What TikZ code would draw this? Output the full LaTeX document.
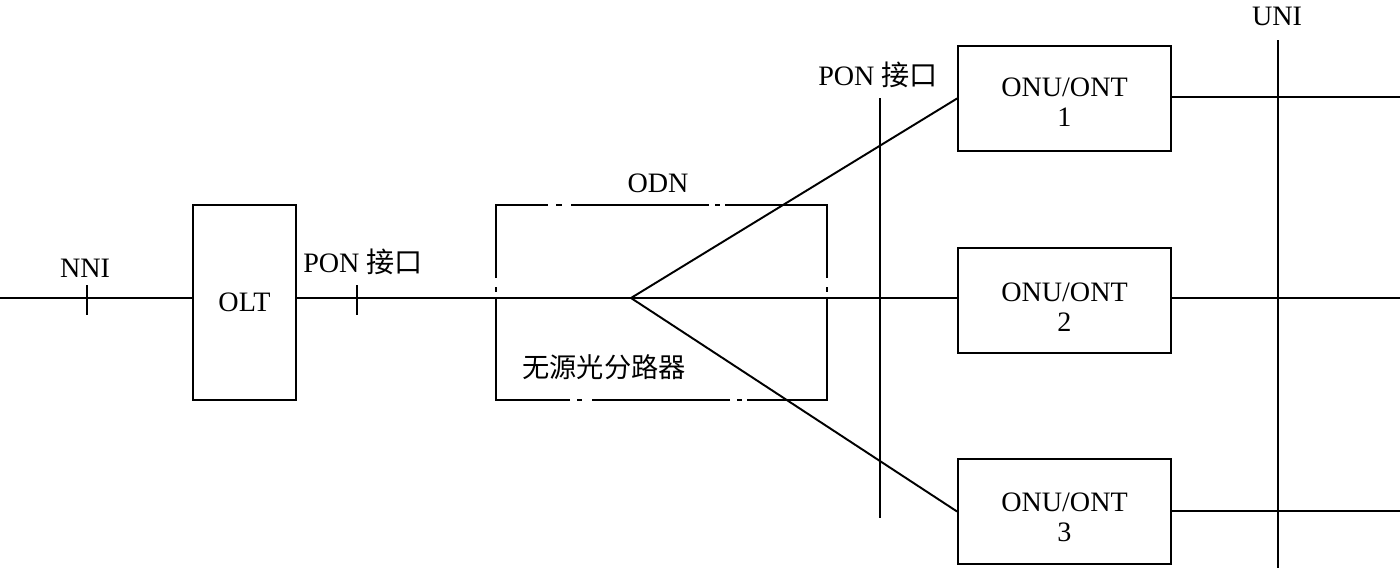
\documentclass[tikz,border=0pt]{standalone}
\usepackage{fontspec}
\setmainfont{Liberation Serif}
\newfontfamily\cjk{Noto Sans CJK SC}
\begin{document}
\begin{tikzpicture}[x=0.02cm,y=-0.02cm,line width=1.1pt,
  lbl/.style={font=\fontsize{16}{17}\selectfont,inner sep=0pt},
  olt/.style={draw,minimum width=2.06cm,minimum height=3.9cm,inner sep=0pt,font=\fontsize{16}{17}\selectfont},
  onu/.style={draw,minimum width=4.26cm,minimum height=2.1cm,inner sep=0pt},
  onutxt/.style={align=center,inner sep=0pt,font=\fontsize{16}{17}\selectfont}]
\useasboundingbox (0,0) rectangle (1400,568);
% nodes
\node[olt] (olt) at (244.5,302.5) {OLT};
\node[onu] (onu1) at (1064.5,98.5) {};
\node[onu] (onu2) at (1064.5,300.5) {};
\node[onu] (onu3) at (1064.5,511.5) {};
\node[onutxt] (t1) at ([yshift=-0.08cm]onu1.center) {ONU/ONT\\1};
\node[onutxt] (t2) at ([yshift=-0.13cm]onu2.center) {ONU/ONT\\2};
\node[onutxt] (t3) at ([yshift=-0.11cm]onu3.center) {ONU/ONT\\3};
\coordinate (left) at (0,298);
\coordinate (split) at (631,298);
\coordinate (r1) at (1400,97);
\coordinate (r2) at (1400,298);
\coordinate (r3) at (1400,511);
% labels
\node[lbl,anchor=base] (nni) at (85,277) {NNI};
\node[lbl,anchor=base] (pon1) at (363,272) {PON {\cjk 接口}};
\node[lbl,anchor=base] (pon2) at (878,85) {PON {\cjk 接口}};
\node[lbl,anchor=base] (uni) at (1277,26) {UNI};
\node[lbl,anchor=base] (odn) at (658,192) {ODN};
\node[lbl,font=\cjk\fontsize{15.5}{17}\selectfont] (spl) at (604,367) {无源光分路器};
% main lines
\draw (left) -- (olt.west |- left);
\draw (olt.east |- left) -- (split);
\draw (split) -- (onu1.west);
\draw (split) -- (onu2.west |- split);
\draw (split) -- (onu3.west);
\draw (onu1.east |- r1) -- (r1);
\draw (onu2.east |- r2) -- (r2);
\draw (onu3.east |- r3) -- (r3);
% ticks
\draw (87,285) -- (87,315);
\draw (357,285) -- (357,315);
% interface lines
\draw (880,98) -- (880,518);
\draw (1278,40) -- (1278,568);
% ODN dash-dot box
\draw (496,278) -- (496,205) -- (548,205);
\draw (556,205) -- (562,205);
\draw (571,205) -- (709,205);
\draw (715,205) -- (720,205);
\draw (725,205) -- (827,205) -- (827,278);
\draw (827,287) -- (827,292);
\draw (827,299) -- (827,400) -- (747,400);
\draw (737,400) -- (742,400);
\draw (730,400) -- (592,400);
\draw (577,400) -- (582,400);
\draw (570,400) -- (496,400) -- (496,299);
\draw (496,287) -- (496,292);
\end{tikzpicture}
\end{document}
